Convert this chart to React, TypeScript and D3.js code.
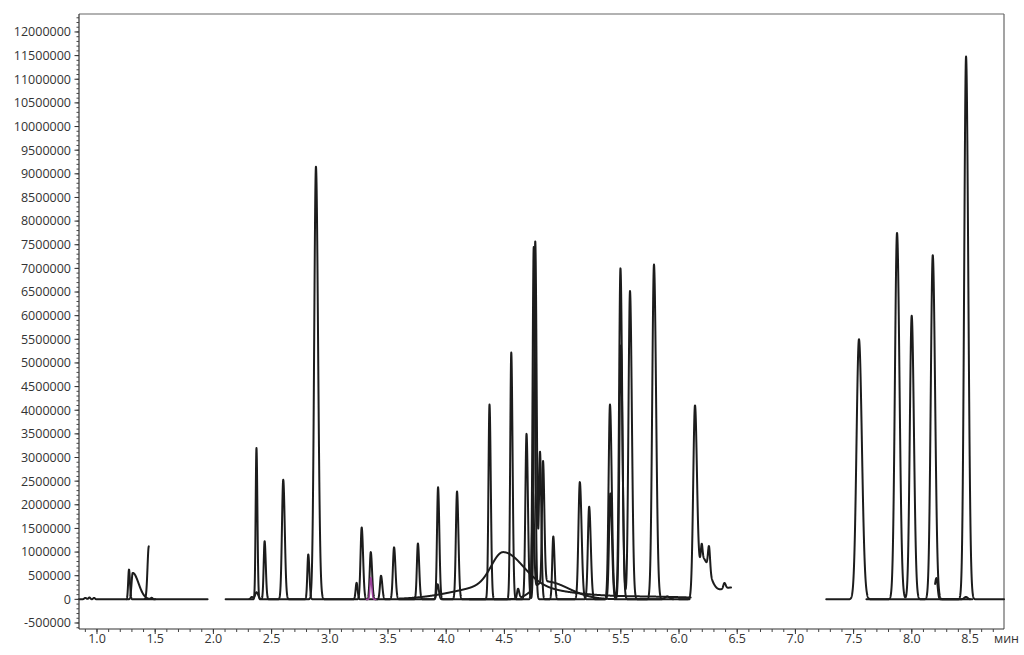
import React from 'react';
import * as d3 from 'd3';

// Peak tables: [retention time (min), height (counts), sigma left, sigma right]
type Peak = [number, number, number, number];

const yMajorTicks = d3.range(-500000, 12000001, 500000);
const yMinorTicks = d3.range(-600000, 12300001, 100000);
const xMajorTicks = [1.0, 1.5, 2.0, 2.5, 3.0, 3.5, 4.0, 4.5, 5.0, 5.5, 6.0, 6.5, 7.0, 7.5, 8.0, 8.5];
const xMinorTicks = d3.range(0.9, 8.79, 0.1);
const xUnit = 'мин';

const peaksL1: Peak[] = [
  [0.9, 30000, 0.01, 0.01], [0.935, 40000, 0.008, 0.008], [0.975, 30000, 0.008, 0.008],
  [1.275, 630000, 0.007, 0.008],
];
const peaksL2: Peak[] = [[1.445, 1120000, 0.011, 0.011]];
const peaksL3: Peak[] = [[1.307, 560000, 0.01, 0.05], [1.47, 30000, 0.008, 0.008]];

const peaksM1: Peak[] = [
  [2.37, 3200000, 0.007, 0.008], [2.6, 2530000, 0.011, 0.013], [2.881, 9150000, 0.015, 0.018],
  [3.274, 1520000, 0.01, 0.012], [3.552, 1100000, 0.01, 0.012], [3.757, 1180000, 0.009, 0.011],
  [3.93, 2370000, 0.009, 0.011], [4.093, 2280000, 0.01, 0.012], [4.372, 4120000, 0.009, 0.011],
  [4.559, 5220000, 0.009, 0.011], [4.752, 7450000, 0.01, 0.012], [5.148, 2480000, 0.012, 0.015],
  [5.407, 4120000, 0.012, 0.015], [5.497, 7000000, 0.012, 0.015], [5.785, 7080000, 0.015, 0.018],
];
const peaksM2: Peak[] = [
  [2.33, 50000, 0.01, 0.01], [2.37, 150000, 0.012, 0.015], [2.44, 1230000, 0.008, 0.01],
  [2.815, 950000, 0.008, 0.01], [3.23, 350000, 0.008, 0.009], [3.352, 1000000, 0.009, 0.011],
  [3.44, 500000, 0.009, 0.011], [3.926, 320000, 0.009, 0.011], [4.69, 3500000, 0.01, 0.012],
  [4.765, 7570000, 0.01, 0.012], [4.806, 3100000, 0.009, 0.011], [4.92, 1330000, 0.009, 0.011],
  [5.228, 1960000, 0.011, 0.014], [5.41, 2240000, 0.011, 0.014], [5.5, 5370000, 0.012, 0.015],
  [5.579, 6520000, 0.013, 0.016], [5.9, 60000, 0.02, 0.02],
];
const peaksM3: Peak[] = [
  [4.45, 300000, 0.35, 0.5], [4.49, 700000, 0.1, 0.17], [5.8, 50000, 0.4, 0.4],
];
const peaksM4: Peak[] = [
  [4.85, 380000, 0.1, 0.2], [4.617, 200000, 0.008, 0.01], [4.745, 2030000, 0.008, 0.01],
  [4.832, 2550000, 0.009, 0.011],
];
const peaksM5: Peak[] = [[3.352, 460000, 0.007, 0.009]];
const peaksM6: Peak[] = [
  [6.137, 4000000, 0.015, 0.017], [6.2, 850000, 0.03, 0.06], [6.195, 300000, 0.007, 0.007],
  [6.258, 520000, 0.009, 0.009], [6.45, 250000, 0.12, 0.1], [6.39, 120000, 0.009, 0.011],
];
const peaksR1: Peak[] = [[7.546, 5500000, 0.021, 0.025], [8.466, 11480000, 0.016, 0.019]];
const peaksR2: Peak[] = [
  [7.873, 7750000, 0.018, 0.021], [7.999, 6000000, 0.016, 0.019], [8.18, 7280000, 0.017, 0.02],
  [8.465, 50000, 0.015, 0.015],
];
const peaksR3: Peak[] = [[8.212, 450000, 0.015, 0.01]];

// time windows of each recorded trace
const traceStart = [0.845, 1.41, 1.255, 2.105, 2.31, 3.6, 4.2, 6.0, 7.265, 7.61, 8.2, 3.315];
const traceEnd = [1.95, 1.445, 1.5, 6.09, 5.95, 6.1, 5.85, 6.447, 8.792, 8.52, 8.5, 3.395];
const tracePeaks = [peaksL1, peaksL2, peaksL3, peaksM1, peaksM2, peaksM3, peaksM4, peaksM6, peaksR1, peaksR2, peaksR3, peaksM5];
const highlightedTrace = 11;

const W = 1024;
const H = 655;

function signal(t: number, peaks: Peak[]) {
  let v = 0;
  for (const [c, h, sl, sr] of peaks) {
    const s = t < c ? sl : sr;
    const z = (t - c) / s;
    if (Math.abs(z) < 8) v += h * Math.exp(-0.5 * z * z);
  }
  return v;
}

function sampleTrace(start: number, end: number, peaks: Peak[]) {
  const pts: [number, number][] = [];
  const n = Math.ceil((end - start) / 0.001);
  for (let i = 0; i <= n; i++) {
    const t = Math.min(end, start + i * 0.001);
    pts.push([t, signal(t, peaks)]);
  }
  return pts;
}

export default function App() {
  const x = d3.scaleLinear().domain([0.8454, 8.792]).range([79, 1004]);
  const y = d3.scaleLinear().domain([-627000, 12380000]).range([629, 14]);
  const line = d3.line<[number, number]>().x((d) => x(d[0])).y((d) => y(d[1]));
  const font = "'Open Sans', 'DejaVu Sans', sans-serif";
  const textColor = '#333';
  const [x0, x1] = x.range();
  const [yb, yt] = y.range();

  return (
    <svg width={W} height={H} style={{ position: 'absolute', left: 0, top: 0, background: '#fff' }}>
      <rect x={0} y={0} width={W} height={H} fill="#fff" />
      {/* frame */}
      <line x1={x0} x2={x1} y1={yt} y2={yt} stroke="#666" strokeWidth={1.2} />
      <line x1={x1} x2={x1} y1={yt} y2={yb} stroke="#666" strokeWidth={1.2} />
      {/* traces */}
      <g fill="none" strokeLinejoin="round" strokeLinecap="round">
        {tracePeaks.map((pk, i) => (
          <path
            key={i}
            d={line(sampleTrace(traceStart[i], traceEnd[i], pk)) || ''}
            stroke={i === highlightedTrace ? '#9b3f9b' : '#1c1c1c'}
            strokeWidth={i === highlightedTrace ? 1.6 : 2}
          />
        ))}
      </g>
      {/* y axis */}
      <g>
        <line x1={x0} x2={x0} y1={yt} y2={yb} stroke="#333" strokeWidth={1.2} />
        {yMinorTicks.filter((v) => y(v) <= yb && y(v) >= yt).map((v) => (
          <line key={'ym' + v} x1={x0 - 2.5} x2={x0} y1={y(v)} y2={y(v)} stroke="#444" strokeWidth={1} />
        ))}
        {yMajorTicks.map((v) => (
          <g key={'y' + v}>
            <line x1={x0 - 4.5} x2={x0} y1={y(v)} y2={y(v)} stroke="#333" strokeWidth={1} />
            <text x={x0 - 8} y={y(v)} dy="0.35em" textAnchor="end" fontFamily={font} fontSize={12.5} fill={textColor}>
              {v}
            </text>
          </g>
        ))}
      </g>
      {/* x axis */}
      <g>
        <line x1={x0} x2={x1} y1={yb} y2={yb} stroke="#333" strokeWidth={1.2} />
        {xMinorTicks.map((v) => (
          <line key={'xm' + v} x1={x(v)} x2={x(v)} y1={yb} y2={yb + 3} stroke="#444" strokeWidth={1} />
        ))}
        {xMajorTicks.map((v) => (
          <g key={'x' + v}>
            <line x1={x(v)} x2={x(v)} y1={yb} y2={yb + 5} stroke="#333" strokeWidth={1} />
            <text x={x(v)} y={yb + 14} textAnchor="middle" fontFamily={font} fontSize={12.5} fill={textColor}>
              {v.toFixed(1)}
            </text>
          </g>
        ))}
        <text x={994} y={yb + 14} textAnchor="start" fontFamily={font} fontSize={12.5} fill={textColor}>
          {xUnit}
        </text>
      </g>
    </svg>
  );
}
